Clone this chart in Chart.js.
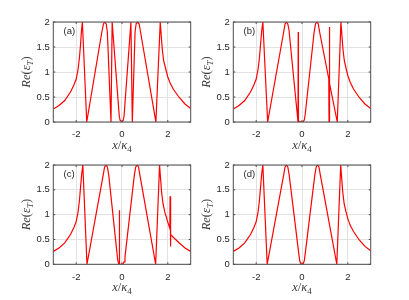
<!DOCTYPE html>
<html><head><meta charset="utf-8">
<script src="https://cdn.jsdelivr.net/npm/chart.js@4.4.1/dist/chart.umd.min.js"></script>
<style>
html,body{margin:0;padding:0;background:#fff;}
#wrap{position:relative;width:409px;height:300px;}
canvas{position:absolute;left:0;top:0;}
</style></head>
<body><div id="wrap">
<canvas id="ca" width="409" height="300"></canvas>
<canvas id="cb" width="409" height="300"></canvas>
<canvas id="cc" width="409" height="300"></canvas>
<canvas id="cd" width="409" height="300"></canvas>
</div>
<script>
// ---- data ----
const xTicks = [-2, 0, 2];
const yTicks = [0, 0.5, 1, 1.5, 2];
const panelLabels = ['(a)', '(b)', '(c)', '(d)'];

const xA = [-3, -2.75, -2.5, -2.25, -2.1, -2.0, -1.92, -1.86, -1.81, -1.77, -1.73,
  -1.54, -0.88, -0.81, -0.75, -0.69, -0.64, -0.48, -0.43,
  -0.12, -0.08, -0.01, 0.05, 0.09, 0.39, 0.45,
  0.57, 0.62, 0.68, 0.75, 0.81, 1.48,
  1.67, 1.71, 1.76, 1.82, 1.9, 2.0, 2.1, 2.25, 2.5, 2.75, 3.0];
const yA = [0.26, 0.33, 0.43, 0.60, 0.74, 0.86, 1.05, 1.28, 1.55, 1.82, 2.0,
  0, 1.8, 1.96, 2.0, 1.96, 1.8, 0, 2.0,
  0.12, 0.03, 0, 0.03, 0.12, 2.0, 0,
  1.8, 1.97, 2.0, 1.96, 1.8, 0,
  2.0, 1.75, 1.45, 1.22, 1.08, 0.9, 0.78, 0.65, 0.49, 0.36, 0.27];

const xB = [-3, -2.75, -2.5, -2.25, -2.1, -2.0, -1.92, -1.86, -1.81, -1.76, -1.71,
  -1.50, -0.80, -0.74, -0.68, -0.62, -0.57, -0.185, -0.175, -0.165, -0.155,
  -0.1, -0.05, 0, 0.05, 0.1, 0.14, 0.53, 0.59, 0.65, 0.71, 0.77,
  1.17, 1.18, 1.195, 1.21, 1.54,
  1.70, 1.74, 1.79, 1.85, 1.93, 2.0, 2.1, 2.25, 2.5, 2.75, 3.0];
const yB = [0.26, 0.33, 0.43, 0.60, 0.74, 0.86, 1.05, 1.28, 1.55, 1.82, 2.0,
  0, 1.8, 1.96, 2.0, 1.96, 1.85, 0.05, 0, 1.8, 0.02,
  0.01, 0, 0, 0.01, 0.04, 0.15, 1.8, 1.96, 2.0, 1.96, 1.8,
  0.86, 0, 1.9, 0.77, 0,
  2.0, 1.75, 1.45, 1.22, 1.06, 0.93, 0.8, 0.66, 0.49, 0.36, 0.27];

const xC = [-3, -2.75, -2.5, -2.25, -2.1, -2.0, -1.92, -1.86, -1.81, -1.76, -1.71,
  -1.53, -0.82, -0.76, -0.70, -0.64, -0.58, -0.19, -0.15, -0.125, -0.115, -0.105,
  -0.05, 0, 0.05, 0.09, 0.13, 0.54, 0.60, 0.66, 0.72, 0.78, 1.47,
  1.64, 1.68, 1.73, 1.79, 1.87, 2.0, 2.09, 2.10, 2.115, 2.13, 2.25, 2.5, 2.75, 3.0];
const yC = [0.26, 0.33, 0.43, 0.60, 0.74, 0.86, 1.05, 1.28, 1.55, 1.82, 2.0,
  0, 1.8, 1.96, 2.0, 1.96, 1.8, 0.1, 0.01, 0, 1.09, 0,
  0, 0, 0.01, 0.05, 0.15, 1.8, 1.96, 2.0, 1.96, 1.8, 0,
  2.0, 1.75, 1.45, 1.22, 1.05, 0.85, 0.72, 1.37, 0.36, 0.6, 0.54, 0.43, 0.33, 0.26];

const xD = [-3, -2.75, -2.5, -2.25, -2.1, -2.0, -1.92, -1.86, -1.81, -1.76, -1.71,
  -1.52, -0.80, -0.74, -0.68, -0.62, -0.56, -0.15, -0.1, -0.05, 0, 0.05, 0.1, 0.15,
  0.56, 0.62, 0.68, 0.74, 0.80, 1.52,
  1.69, 1.73, 1.78, 1.84, 1.92, 2.0, 2.1, 2.25, 2.5, 2.75, 3.0];
const yD = [0.26, 0.33, 0.43, 0.60, 0.74, 0.86, 1.05, 1.28, 1.55, 1.82, 2.0,
  0, 1.8, 1.96, 2.0, 1.96, 1.8, 0.25, 0.07, 0.01, 0, 0.01, 0.07, 0.25,
  1.8, 1.96, 2.0, 1.96, 1.8, 0,
  2.0, 1.75, 1.45, 1.22, 1.06, 0.92, 0.79, 0.66, 0.49, 0.36, 0.27];

// ---- layout (plot boxes in page pixels) ----
const W = 409, H = 300;
const boxes = [
  {l: 53.3, t: 22, r: 190.7, b: 122},
  {l: 233.3, t: 22, r: 370.7, b: 122},
  {l: 53.3, t: 165, r: 190.7, b: 264.3},
  {l: 233.3, t: 165, r: 370.7, b: 264.3}
];
const YW = 50, XH = 28;
const TICK_FAMILY = '"Liberation Sans", Arial, sans-serif';
const INK = '#262626';
const TITLE_INK = '#3a3a3a';
const SERIF = '"Liberation Serif", "Times New Roman", serif';

function drawRich(ctx, parts, cx, cy, rot) {
  ctx.save();
  ctx.translate(cx, cy);
  ctx.rotate(rot);
  ctx.textBaseline = 'alphabetic';
  ctx.textAlign = 'left';
  let total = 0;
  parts.forEach(p => { ctx.font = p.f; p.w = ctx.measureText(p.t).width; total += p.w; });
  let x = -total / 2;
  parts.forEach(p => { ctx.font = p.f; ctx.fillText(p.t, x, 4 + (p.dy || 0)); x += p.w; });
  ctx.restore();
}

const decor = {
  id: 'decor',
  afterDatasetsDraw(chart, args, opts) {
    const {ctx, chartArea: a, scales: {x, y}} = chart;
    ctx.save();
    ctx.strokeStyle = '#4d4d4d';
    ctx.lineWidth = 1;
    ctx.strokeRect(a.left, a.top, a.right - a.left, a.bottom - a.top);
    const tl = 2;
    ctx.beginPath();
    xTicks.forEach(v => {
      const px = x.getPixelForValue(v);
      ctx.moveTo(px, a.bottom); ctx.lineTo(px, a.bottom - tl);
      ctx.moveTo(px, a.top); ctx.lineTo(px, a.top + tl);
    });
    yTicks.forEach(v => {
      const py = y.getPixelForValue(v);
      ctx.moveTo(a.left, py); ctx.lineTo(a.left + tl, py);
      ctx.moveTo(a.right, py); ctx.lineTo(a.right - tl, py);
    });
    ctx.stroke();
    ctx.fillStyle = INK;
    ctx.font = '9.5px ' + TICK_FAMILY;
    ctx.textBaseline = 'middle';
    ctx.textAlign = 'left';
    ctx.fillText(opts.label, a.left + 10.2, a.top + 9.5);
    // axis titles
    ctx.fillStyle = TITLE_INK;
    const it = 'italic 12.5px ' + SERIF, up = '12.5px ' + SERIF, sub = 'italic 9px ' + SERIF, subUp = '9px ' + SERIF;
    drawRich(ctx, [{t: 'Re', f: it}, {t: '(', f: up}, {t: 'ε', f: it}, {t: 'T', f: sub, dy: 2.5}, {t: ')', f: up}],
      a.left - 27.3, (a.top + a.bottom) / 2, -Math.PI / 2);
    drawRich(ctx, [{t: 'x', f: it}, {t: '/', f: up}, {t: 'κ', f: it}, {t: '4', f: subUp, dy: 2.5}],
      (a.left + a.right) / 2, a.bottom + 23, 0);
    ctx.restore();
  }
};

function makeChart(id, xs, ys, box, label) {
  const pts = xs.map((v, i) => ({x: v, y: ys[i]}));
  return new Chart(document.getElementById(id), {
    type: 'scatter',
    data: {datasets: [{data: pts, showLine: true, borderColor: '#ff0000', backgroundColor: '#ff0000',
      borderWidth: 1.2, pointRadius: 0, tension: 0, fill: false, clip: 0}]},
    options: {
      responsive: false, animation: false, events: [],
      layout: {padding: {left: box.l - YW, top: box.t, right: W - box.r, bottom: H - box.b - XH}},
      plugins: {legend: {display: false}, tooltip: {enabled: false}, decor: {label: label}},
      scales: {
        x: {type: 'linear', min: -3, max: 3,
          afterBuildTicks: s => { s.ticks = xTicks.map(v => ({value: v})); },
          afterFit: s => { s.height = XH; },
          grid: {color: '#e2e2e2', lineWidth: 1, drawTicks: false},
          border: {display: false},
          ticks: {font: {family: TICK_FAMILY, size: 9.5}, color: INK, padding: 7, maxRotation: 0,
            callback: v => String(v)}},
        y: {type: 'linear', min: 0, max: 2,
          afterBuildTicks: s => { s.ticks = yTicks.map(v => ({value: v})); },
          afterFit: s => { s.width = YW; },
          grid: {color: '#e2e2e2', lineWidth: 1, drawTicks: false},
          border: {display: false},
          ticks: {font: {family: TICK_FAMILY, size: 9.5}, color: INK, padding: 3.5,
            callback: v => String(v)}}
      }
    },
    plugins: [decor]
  });
}

makeChart('ca', xA, yA, boxes[0], panelLabels[0]);
makeChart('cb', xB, yB, boxes[1], panelLabels[1]);
makeChart('cc', xC, yC, boxes[2], panelLabels[2]);
makeChart('cd', xD, yD, boxes[3], panelLabels[3]);
</script>
</body></html>
